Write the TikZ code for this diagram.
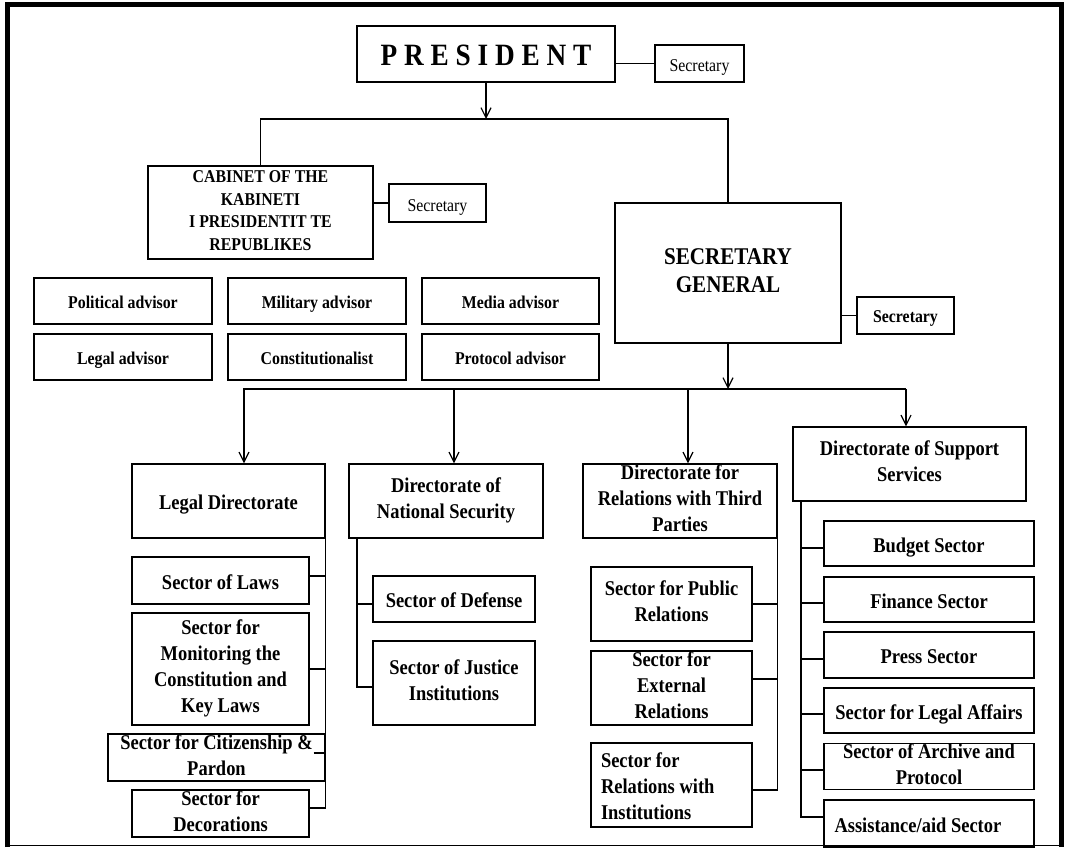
\documentclass[tikz,border=0pt]{standalone}
\usepackage{fontspec}
\setmainfont{Liberation Serif}[FakeStretch=0.88]
\usetikzlibrary{arrows.meta}
\newcommand\bxstrut[2]{\rule[-#2]{0pt}{\dimexpr#1+#2\relax}}
\begin{document}
\begin{tikzpicture}[x=1pt,y=-1pt,
  bx/.style={draw, line width=1.2pt, inner sep=0pt, align=center},
  st/.style 2 args={execute at begin node={\bxstrut{#1}{#2}}, execute at end node={\bxstrut{#1}{#2}}},
  sm/.style={font=\bfseries\fontsize{18}{22}\selectfont, st={18pt}{4pt}},
  md/.style={font=\bfseries\fontsize{21}{26}\selectfont, st={22pt}{5pt}},
  sec/.style={font=\fontsize{18}{22}\selectfont, st={20pt}{4pt}},
  ln/.style={line width=1.2pt},
  arr/.style={line width=1.2pt, -{Straight Barb[length=10pt,width=10pt,line width=1.2pt]}}]
\useasboundingbox (0,0) rectangle (1065,847);
% frame
\draw[line width=5.5pt] (7.5,847) -- (7.5,4.5) -- (1061.5,4.5) -- (1061.5,847);
\draw[line width=1.4pt] (7.5,845.5) -- (1061.5,845.5);

% top level
\node[bx, minimum width=258pt, minimum height=56pt, font=\bfseries\fontsize{31}{34}\selectfont, st={28pt}{5.5pt}] (pres) at (486,54) {P R E S I D E N T};
\node[bx, sec, minimum width=89pt, minimum height=37pt] (sec1) at (699.5,63.5) {Secretary};
\node[bx, font=\bfseries\fontsize{18}{22.5}\selectfont, st={18pt}{4pt}, minimum width=225pt, minimum height=93pt] (cab) at (260.5,212.5) {CABINET OF THE\\KABINETI\\I PRESIDENTIT TE\\REPUBLIKES};
\node[bx, sec, minimum width=97pt, minimum height=38pt] (sec2) at (437.5,203) {Secretary};
\node[bx, font=\bfseries\fontsize{24}{28}\selectfont, st={23pt}{5pt}, minimum width=226pt, minimum height=140pt] (sg) at (728,273) {SECRETARY\\GENERAL};
\node[bx, font=\bfseries\fontsize{18}{22}\selectfont, st={17pt}{4pt}, minimum width=97pt, minimum height=37pt] (sec3) at (905.5,315.5) {Secretary};

% advisors
\node[bx, sm, minimum width=178pt, minimum height=46pt] (pol) at (123,301) {Political advisor};
\node[bx, sm, minimum width=178pt, minimum height=46pt] (mil) at (317,301) {Military advisor};
\node[bx, sm, minimum width=177pt, minimum height=46pt] (med) at (510.5,301) {Media advisor};
\node[bx, sm, minimum width=178pt, minimum height=46pt] (lad) at (123,357) {Legal advisor};
\node[bx, sm, minimum width=178pt, minimum height=46pt] (con) at (317,357) {Constitutionalist};
\node[bx, sm, minimum width=177pt, minimum height=46pt] (pro) at (510.5,357) {Protocol advisor};

% directorates
\node[bx, md, minimum width=193pt, minimum height=74pt] (legdir) at (228.5,501) {Legal Directorate};
\node[bx, md, minimum width=194pt, minimum height=74pt] (natsec) at (446,501) {Directorate of\\National Security};
\node[bx, md, minimum width=194pt, minimum height=74pt] (third) at (680,501) {Directorate for\\Relations with Third\\Parties};
\node[bx, md, minimum width=233pt, minimum height=74pt] (supp) at (909.5,464) {Directorate of Support\\Services};

% legal sectors
\node[bx, md, minimum width=177pt, minimum height=47pt] (laws) at (220.5,580.5) {Sector of Laws};
\node[bx, md, minimum width=177pt, minimum height=112pt] (mon) at (220.5,669) {Sector for\\Monitoring the\\Constitution and\\Key Laws};
\node[bx, md, minimum width=217pt, minimum height=47pt] (cit) at (216.5,757.5) {Sector for Citizenship \&\\Pardon};
\node[bx, md, minimum width=177pt, minimum height=47pt] (dec) at (220.5,813.5) {Sector for\\Decorations};

% national security sectors
\node[bx, md, minimum width=162pt, minimum height=46pt] (def) at (454,599) {Sector of Defense};
\node[bx, md, minimum width=162pt, minimum height=84pt] (jus) at (454,683) {Sector of Justice\\Institutions};

% third parties sectors
\node[bx, md, minimum width=161pt, minimum height=74pt] (pub) at (671.5,604) {Sector for Public\\Relations};
\node[bx, md, minimum width=161pt, minimum height=74pt] (ext) at (671.5,688) {Sector for\\External\\Relations};
\node[bx, md, minimum width=161pt, minimum height=84pt, text width=141pt, inner xsep=10pt, align=flush left] (ins) at (671.5,785) {Sector for\\Relations with\\Institutions};

% support sectors
\node[bx, md, minimum width=210pt, minimum height=45pt] (bud) at (929,543.5) {Budget Sector};
\node[bx, md, minimum width=210pt, minimum height=45pt] (fin) at (929,599.5) {Finance Sector};
\node[bx, md, minimum width=210pt, minimum height=46pt] (pre) at (929,655) {Press Sector};
\node[bx, md, minimum width=210pt, minimum height=45pt] (lea) at (929,710.5) {Sector for Legal Affairs};
\node[bx, md, minimum width=210pt, minimum height=45pt] (arc) at (929,766.5) {Sector of Archive and\\Protocol};
\node[bx, md, minimum width=210pt, minimum height=47pt, text width=189pt, inner xsep=10.5pt, align=flush left] (ass) at (929,823.5) {Assistance/aid Sector};

% top connectors
\draw[arr] (pres.south) -- (pres.south |- 0,119);
\draw[ln] (cab.north) |- (sg.north |- 0,119) -- (sg.north);
\draw[ln] (pres.east |- sec1.west) -- (sec1.west);
\draw[ln] (cab.east |- sec2.west) -- (sec2.west);
\draw[ln] (sg.east |- sec3.west) -- (sec3.west);

% SG bus
\coordinate (b1) at (244,389);
\coordinate (b2) at (454,389);
\coordinate (b3) at (688,389);
\coordinate (b4) at (906,389);
\draw[arr] (sg.south) -- (sg.south |- b1);
\draw[arr] (b4) -| (b1 |- legdir.north);
\draw[arr] (b4) -- (b4 |- supp.north);
\draw[arr] (b2) -- (b2 |- natsec.north);
\draw[arr] (b3) -- (b3 |- third.north);

% legal bus
\draw[ln] (legdir.south east) -- (legdir.east |- 0,808) -- (dec.east |- 0,808);
\draw[ln] (laws.east |- 0,576) -- (legdir.east |- 0,576);
\draw[ln] (mon.east) -- (legdir.east |- mon.east);
\draw[ln] ([xshift=-12pt]cit.east |- 0,753) -- (cit.east |- 0,753);

% national security bus
\coordinate (nsb) at (357,538);
\draw[ln] (nsb) -- (nsb |- 0,687) -- (jus.west |- 0,687);
\draw[ln] (nsb |- 0,604) -- (def.west |- 0,604);

% third parties bus
\draw[ln] (third.south east) -- (third.east |- 0,790) -- (ins.east |- 0,790);
\draw[ln] (pub.east) -- (third.east |- pub.east);
\draw[ln] (ext.east |- 0,679) -- (third.east |- 0,679);

% support bus
\coordinate (spb) at (801,501);
\draw[ln] (spb) -- (spb |- 0,817) -- (ass.west |- 0,817);
\draw[ln] (spb |- 0,548) -- (bud.west |- 0,548);
\draw[ln] (spb |- 0,603) -- (fin.west |- 0,603);
\draw[ln] (spb |- 0,659) -- (pre.west |- 0,659);
\draw[ln] (spb |- 0,714) -- (lea.west |- 0,714);
\draw[ln] (spb |- 0,770) -- (arc.west |- 0,770);
\end{tikzpicture}
\end{document}
